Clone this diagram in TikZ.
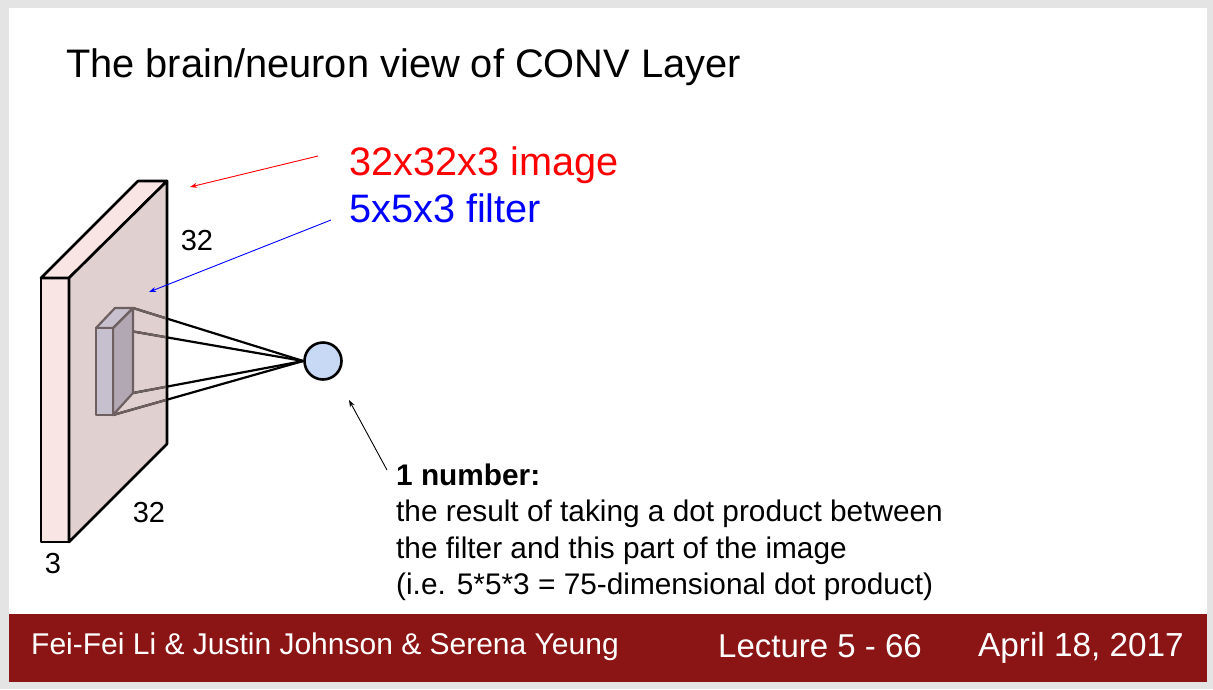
\documentclass[tikz,border=0pt]{standalone}
\usepackage{fontspec}
\setmainfont{Liberation Sans}
\usetikzlibrary{arrows.meta,positioning}
\definecolor{slidegray}{RGB}{228,228,228}
\definecolor{footred}{RGB}{139,21,21}
\definecolor{slabpink}{RGB}{249,229,227}
\definecolor{slabface}{RGB}{224,208,207}
\definecolor{filterfront}{RGB}{198,191,206}
\definecolor{filtertop}{RGB}{200,192,206}
\definecolor{filterside}{RGB}{178,168,180}
\definecolor{filterline}{RGB}{110,96,96}
\definecolor{neuronblue}{RGB}{199,217,245}
\begin{document}
\begin{tikzpicture}[
    x=1pt,y=-1pt,
    txt/.style={anchor=base west,inner sep=0pt,font=\fontsize{#1}{#1}\selectfont},
    dim/.style={anchor=base,inner sep=0pt,font=\fontsize{29}{29}\selectfont},
    foot/.style={txt=#1,text=white},
    slab/.style={draw=black,line width=2.6pt,line join=round},
    filt/.style={draw=filterline,line width=2.2pt,line join=round},
    wire/.style={line width=2.2pt},
    arr/.style={-{Stealth[length=7pt,width=5pt]},line width=0.9pt},
  ]
    \useasboundingbox (0,0) rectangle (1213,689);
    \fill[slidegray] (0,0) rectangle (1213,689);
    \fill[white] (9,8) rectangle (1207,682);
    \fill[footred] (9,614) rectangle (1207,682);
    \node[txt=39.8] (title) at (66,77) {The brain/neuron view of CONV Layer};
    % image slab
    \coordinate (fa) at (41,278);
    \coordinate (fb) at (69,278);
    \coordinate (fc) at (69,542);
    \coordinate (fd) at (41,542);
    \coordinate (ta) at (138,181);
    \coordinate (tb) at (167,181);
    \coordinate (sb) at (167,444);
    \draw[slab,fill=slabpink] (fa) -- (fb) -- (fc) -- (fd) -- cycle;
    \draw[slab,fill=slabpink] (fa) -- (ta) -- (tb) -- (fb) -- cycle;
    \draw[slab,fill=slabface] (fb) -- (tb) -- (sb) -- (fc) -- cycle;
    % filter
    \coordinate (ga) at (96,328);
    \coordinate (gb) at (113,328);
    \coordinate (gc) at (113,415);
    \coordinate (gd) at (96,415);
    \coordinate (ha) at (115,308);
    \coordinate (hb) at (133,308);
    \coordinate (hc) at (133,393);
    \node[circle,draw=black,line width=2.6pt,fill=neuronblue,minimum size=37pt,inner sep=0pt] (neuron) at (323,361) {};
    \draw[wire] (hb) -- (neuron.west);
    \draw[wire] (gb) -- (neuron.west);
    \draw[wire] (hc) -- (neuron.west);
    \draw[wire] (gc) -- (neuron.west);
    \begin{scope}
      \clip (fb) -- (tb) -- (sb) -- (fc) -- cycle;
      \draw[wire,filterline] (hb) -- (neuron.west);
      \draw[wire,filterline] (gb) -- (neuron.west);
      \draw[wire,filterline] (hc) -- (neuron.west);
      \draw[wire,filterline] (gc) -- (neuron.west);
    \end{scope}
    \draw[slab] (tb) -- (sb);
    \draw[filt,fill=filterside] (gb) -- (hb) -- (hc) -- (gc) -- cycle;
    \draw[filt,fill=filtertop] (ga) -- (ha) -- (hb) -- (gb) -- cycle;
    \draw[filt,fill=filterfront] (ga) -- (gb) -- (gc) -- (gd) -- cycle;
    % labels
    \node[txt=39.7,text=red] (imglab) at (349,175) {32x32x3 image};
    \node[txt=39.7,text=blue] (fillab) at (349,222) {5x5x3 filter};
    \node[dim] (dimh) at (197,250) {32};
    \node[dim] (dimw) at (149,522) {32};
    \node[dim] (dimd) at (53,573) {3};
    \coordinate (imgtail) at (318,156);
    \coordinate (imghead) at (190,187);
    \coordinate (filtail) at (331,220);
    \coordinate (filhead) at (149,292);
    \coordinate (numtail) at (387,470);
    \coordinate (numhead) at (349,400);
    \draw[arr,red] (imgtail) -- (imghead);
    \draw[arr,blue] (filtail) -- (filhead);
    \draw[arr,black] (numtail) -- (numhead);
    \node[txt=29.8] (numa) at (396,485) {\bfseries 1 number:};
    \node[txt=29.8] (numb) at (396,521) {the result of taking a dot product between};
    \node[txt=29.8] (numc) at (396,558) {the filter and this part of the image};
    \node[txt=29.8] (numd) at (396,594) {(i.e. 5*5*3 = 75-dimensional dot product)};
    % footer
    \node[foot=30] (names) at (31,654) {Fei-Fei Li \& Justin Johnson \& Serena Yeung};
    \node[foot=33] (lect) at (718,657) {Lecture 5 - 66};
    \node[foot=33.3] (date) at (978,656) {April 18, 2017};
  \end{tikzpicture}
\end{document}
